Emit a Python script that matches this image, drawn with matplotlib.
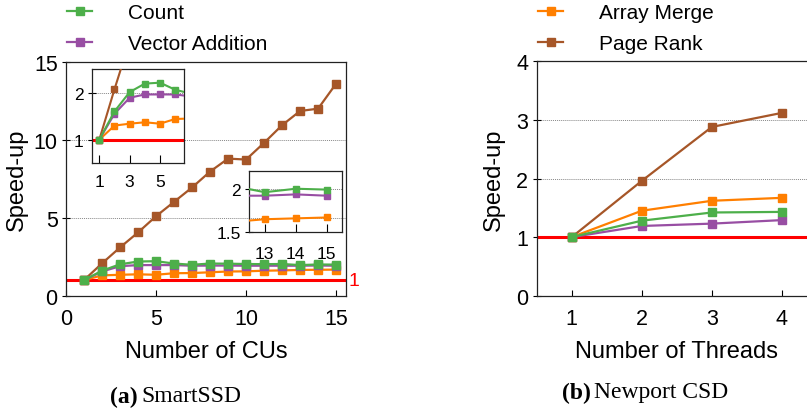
import numpy as np
import matplotlib
matplotlib.use('Agg')
import matplotlib.pyplot as plt

plt.rcParams['font.family'] = ['Liberation Sans', 'DejaVu Sans']

# colours (Set1 style)
C_COUNT = '#4daf4a'
C_VEC = '#984ea3'
C_MERGE = '#ff7f00'
C_RANK = '#a65628'

# --- SmartSSD: speed-up vs number of CUs
cus = [1, 2, 3, 4, 5, 6, 7, 8, 9, 10, 11, 12, 13, 14, 15]
ssd_rank = [1, 2.07, 3.09, 4.05, 5.09, 6.01, 6.93, 7.95, 8.78, 8.72, 9.79, 10.92, 11.83, 11.98, 13.58]
ssd_count = [1, 1.6, 2.01, 2.19, 2.21, 2.06, 1.98, 2.06, 2.05, 2.03, 2.02, 2.03, 1.96, 2.0, 1.99]
ssd_vec = [1, 1.55, 1.89, 1.96, 1.96, 1.96, 1.92, 1.93, 1.93, 1.92, 1.92, 1.92, 1.92, 1.935, 1.92]
ssd_merge = [1, 1.3, 1.34, 1.37, 1.34, 1.44, 1.45, 1.5, 1.55, 1.56, 1.6, 1.62, 1.65, 1.66, 1.67]

# --- Newport CSD: speed-up vs number of threads
threads = [1, 2, 3, 4]
csd_rank = [1, 1.96, 2.88, 3.12]
csd_merge = [1, 1.45, 1.62, 1.67]
csd_count = [1, 1.28, 1.42, 1.43]
csd_vec = [1, 1.19, 1.23, 1.29]

W, H = 807, 414
fig = plt.figure(figsize=(W / 100, H / 100), dpi=100)


def box(x0, y0, x1, y1):
    # pixel box (top-left origin) -> figure fraction rect
    return [x0 / W, 1 - y1 / H, (x1 - x0) / W, (y1 - y0) / H]


def draw_series(ax, x, series, lw=1.6, ms=5.5):
    handles = []
    for y, c, lab in series:
        h, = ax.plot(x, y, color=c, lw=lw, marker='s', ms=ms, mec=c, label=lab,
                     zorder=3, clip_on=True)
        handles.append(h)
    return handles


def style(ax, fs, xlen=4, ylen=6, xpad=9):
    ax.tick_params(axis='x', direction='in', length=xlen, width=0.8, labelsize=fs, pad=xpad)
    ax.tick_params(axis='y', direction='inout', length=ylen, width=0.8, labelsize=fs, pad=3)
    ax.tick_params(top=False, right=False)
    for s in ax.spines.values():
        s.set_linewidth(0.9)
        s.set_color('#222222')


def hgrid(ax, levels):
    for v in levels:
        ax.axhline(v, color='#888888', lw=0.7, ls=(0, (1, 1)), zorder=1)


left_series = [(ssd_rank, C_RANK, 'Page Rank'), (ssd_merge, C_MERGE, 'Array Merge'),
               (ssd_vec, C_VEC, 'Vector Addition'), (ssd_count, C_COUNT, 'Count')]
right_series = [(csd_rank, C_RANK, 'Page Rank'), (csd_merge, C_MERGE, 'Array Merge'),
                (csd_vec, C_VEC, 'Vector Addition'), (csd_count, C_COUNT, 'Count')]

# left main axes
ax1 = fig.add_axes(box(66, 62.5, 346, 296.7))
ax1.axhline(1, color='red', lw=2.2, zorder=2)
hgrid(ax1, [5, 10])
draw_series(ax1, cus, left_series)
ax1.set_xlim(0, 15.55)
ax1.set_ylim(0, 15)
ax1.set_xticks([0, 5, 10, 15])
ax1.set_yticks([0, 5, 10, 15])
style(ax1, 15.5)
ax1.set_xlabel('Number of CUs', fontsize=17, labelpad=7.5)
ax1.set_ylabel('Speed-up', fontsize=17, labelpad=4)
ax1.text(1.008, 1, '1', color='red', fontsize=14, va='center', ha='left',
         transform=ax1.get_yaxis_transform())

# inset: first CUs
ins1 = fig.add_axes(box(91.7, 70, 184.3, 164.3))
ins1.patch.set_alpha(0)
ins1.axhline(1, color='red', lw=2.2, zorder=2)
hgrid(ins1, [2])
draw_series(ins1, cus, left_series, lw=1.5, ms=5)
ins1.set_xlim(0.5, 6.6)
ins1.set_ylim(0.5, 2.5)
ins1.set_xticks([1, 3, 5])
ins1.set_yticks([1, 2])
style(ins1, 12.5, xlen=6, ylen=6, xpad=8)

# inset: last CUs
ins2 = fig.add_axes(box(249.3, 172.3, 342.3, 233.3))
ins2.patch.set_alpha(0)
hgrid(ins2, [2])
draw_series(ins2, cus, left_series, lw=1.5, ms=5)
ins2.set_xlim(12.5, 15.5)
ins2.set_ylim(1.5, 2.2)
ins2.set_xticks([13, 14, 15])
ins2.set_yticks([1.5, 2])
ins2.set_yticklabels(['1.5', '2'])
style(ins2, 12.5, xlen=6, ylen=6, xpad=10)

# right axes
ax2 = fig.add_axes(box(536.7, 62.3, 817, 296.7))
ax2.axhline(1, color='red', lw=2.2, zorder=2)
hgrid(ax2, [2, 3])
hr = draw_series(ax2, threads, right_series)
ax2.set_xlim(0.5, 4.5)
ax2.set_ylim(0, 4)
ax2.set_xticks(threads)
ax2.set_yticks([0, 1, 2, 3, 4])
style(ax2, 15.5)
ax2.set_xlabel('Number of Threads', fontsize=17, labelpad=7.5)
ax2.set_ylabel('Speed-up', fontsize=17, labelpad=8)

# legends
h_rank, h_merge, h_vec, h_count = hr
leg_kw = dict(loc='upper left', frameon=False, fontsize=15, borderpad=0, borderaxespad=0,
              handlelength=1.2, handletextpad=1.75, labelspacing=0.58)
fig.legend([h_count, h_vec], ['Count', 'Vector Addition'],
           bbox_to_anchor=(67 / W, 1 - 4 / H), **leg_kw)
fig.legend([h_merge, h_rank], ['Array Merge', 'Page Rank'],
           bbox_to_anchor=(538 / W, 1 - 4 / H), **leg_kw)

# captions
cap = dict(family=['Liberation Serif', 'DejaVu Serif'], fontsize=17, va='center')
fig.text(137.5 / W, 1 - 397 / H, '(a)', ha='right', weight='bold', **cap)
fig.text(141.5 / W, 1 - 397 / H, 'SmartSSD', ha='left', **cap)
fig.text(590.5 / W, 1 - 393 / H, '(b)', ha='right', weight='bold', **cap)
fig.text(594 / W, 1 - 393 / H, 'Newport CSD', ha='left', **cap)

fig.savefig('out.png', dpi=100)
